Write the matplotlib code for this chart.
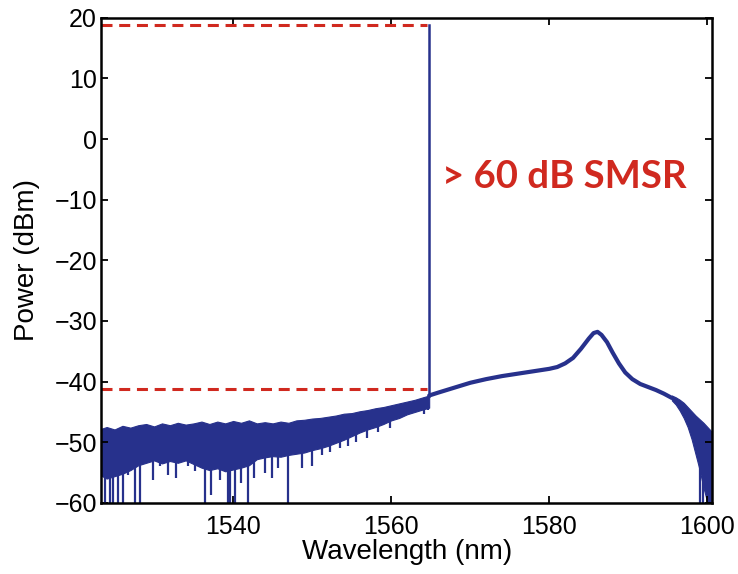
import numpy as np
import matplotlib
matplotlib.use("Agg")
import matplotlib.pyplot as plt

# noise floor below the lasing line: upper / lower edge of the dense band (dBm)
noise_nm = [1523.3, 1524, 1525, 1526, 1527, 1528, 1529, 1530, 1531, 1532, 1533,
            1534, 1535, 1536, 1537, 1538, 1539, 1540, 1541, 1542, 1543, 1544,
            1545, 1546, 1547, 1548, 1549, 1550, 1551, 1552, 1553, 1554, 1555,
            1556, 1557, 1558, 1559, 1560, 1561, 1562, 1563, 1564, 1564.8]
noise_top = [-47.8, -47.5, -47.9, -47.3, -47.6, -47.2, -47.0, -47.4, -46.9, -47.2, -46.8,
             -47.1, -46.9, -46.6, -47.0, -46.6, -46.9, -46.5, -46.8, -46.4, -46.9, -46.7,
             -46.9, -46.6, -46.8, -46.4, -46.3, -46.1, -46.0, -45.8, -45.6, -45.3, -45.2,
             -44.9, -44.7, -44.4, -44.2, -43.9, -43.6, -43.3, -43.0, -42.6, -42.3]
noise_bot = [-55.5, -56.0, -55.6, -55.2, -54.6, -53.8, -53.4, -53.0, -53.5, -53.1, -53.4,
             -53.0, -53.6, -54.2, -54.6, -54.3, -54.8, -54.5, -54.2, -53.8, -52.8, -52.5,
             -52.3, -52.4, -52.1, -51.9, -51.7, -51.3, -51.0, -50.6, -50.1, -49.6, -49.0,
             -48.4, -47.9, -47.5, -47.0, -46.4, -46.0, -45.4, -45.0, -44.6, -44.3]

# downward noise spikes (wavelength, minimum reading)
spike_nm = [1523.8, 1524.4, 1524.8, 1525.4, 1526.1, 1526.7, 1527.6, 1528.2, 1529.9,
            1530.7, 1531.8, 1532.8, 1534.3, 1535.2, 1536.4, 1537.2, 1538.3, 1539.3,
            1539.6, 1540.2, 1541.0, 1541.9, 1542.7, 1544.0, 1544.9, 1545.7, 1546.9,
            1548.7, 1550.0, 1551.2, 1552.2, 1553.5, 1554.5, 1555.6, 1556.9, 1558.3,
            1559.8, 1564.2, 1564.7, 1599.0, 1599.4]
spike_db = [-60, -60, -60, -60, -60, -55.4, -60, -60, -56.2,
            -54.0, -55.4, -55.9, -54.0, -54.8, -60, -58.7, -56.2, -60,
            -60, -60, -56.7, -60, -55.9, -55.1, -55.9, -54.3, -60,
            -54.3, -54.0, -52.1, -51.6, -51.0, -50.7, -49.9, -49.3, -48.4,
            -47.6, -45.4, -44.7, -60, -60]

# ASE shoulder to the long-wavelength side of the lasing line
ase_nm = [1564.8, 1566, 1568, 1570, 1572, 1574, 1576, 1578, 1580, 1581, 1582, 1583,
          1584, 1585, 1585.6, 1586.1, 1586.6, 1587.3, 1588, 1588.8, 1589.6, 1590.5,
          1591.5, 1592.5, 1593.5, 1594.5, 1595.5]
ase_db = [-42.3, -41.8, -41.0, -40.2, -39.6, -39.1, -38.7, -38.3, -37.9, -37.6, -37.0, -36.1,
          -34.6, -32.9, -32.0, -31.8, -32.3, -33.5, -35.2, -37.0, -38.5, -39.6,
          -40.4, -40.9, -41.4, -42.0, -42.7]

# noisy roll-off at the red end
tail_nm = [1595.5, 1596.0, 1596.5, 1597.0, 1597.5, 1598.0, 1598.5, 1599.0, 1599.5, 1600.0, 1600.5]
tail_top = [-42.3, -42.6, -43.0, -43.5, -44.2, -44.9, -45.6, -46.2, -46.8, -47.5, -48.2]
tail_bot = [-43.1, -43.8, -44.8, -46.0, -47.5, -49.5, -52.0, -54.5, -57.5, -60, -60]

laser_nm = 1564.8
peak_dbm = 18.8
floor_dbm = -41.2
smsr_text = "> 60 dB SMSR"

blue = "#27318c"
red = "#d0291f"

plt.rcParams["font.family"] = ["Liberation Sans", "DejaVu Sans"]

fig = plt.figure(figsize=(7.38, 5.74), dpi=100)
ax = fig.add_axes([0.137, 0.124, 0.828, 0.845])

ax.fill_between(noise_nm, noise_bot, noise_top, color=blue, lw=0.8)
ax.fill_between(tail_nm, tail_bot, tail_top, color=blue, lw=0.8)
ax.plot(ase_nm, ase_db, color=blue, lw=3.0, solid_capstyle="round")
spike_top = np.where(np.array(spike_nm) < 1580,
                     np.interp(spike_nm, noise_nm, noise_bot) + 1.0,
                     np.interp(spike_nm, tail_nm, tail_bot) + 1.0)
ax.vlines(spike_nm, spike_db, spike_top, color=blue, lw=1.6)
ax.plot([laser_nm, laser_nm], [noise_top[-1], peak_dbm], color=blue, lw=1.8)

# SMSR markers
ax.plot([1523.3, laser_nm - 0.3], [peak_dbm, peak_dbm], color=red, lw=2.2, dashes=(3.6, 2.2))
ax.plot([1523.3, laser_nm - 0.3], [floor_dbm, floor_dbm], color=red, lw=2.2, dashes=(3.6, 2.2))
ax.text(1566.4, -6.2, smsr_text, color=red, fontsize=27.5, fontweight="bold",
        family=["Lato", "DejaVu Sans"], ha="left", va="center")

ax.set_xlim(1523.3, 1600.6)
ax.set_ylim(-60, 20)
ax.set_xticks([1540, 1560, 1580, 1600])
ax.set_yticks(np.arange(-60, 21, 10))
ax.tick_params(direction="in", top=True, right=True, length=5, width=1.3,
               labelsize=18)
ax.tick_params(axis="x", pad=9)
ax.tick_params(axis="y", pad=3)
for s in ax.spines.values():
    s.set_linewidth(1.8)
ax.set_xlabel("Wavelength (nm)", fontsize=20, labelpad=0)
ax.set_ylabel("Power (dBm)", fontsize=20, labelpad=10)

fig.savefig("out.png", dpi=100)
